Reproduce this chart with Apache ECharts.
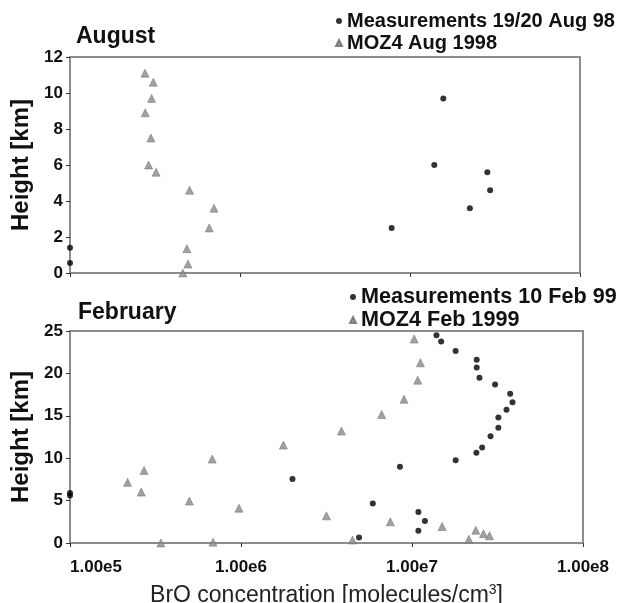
<!DOCTYPE html>
<html>
<head>
<meta charset="utf-8">
<script src="https://cdn.jsdelivr.net/npm/echarts@6/dist/echarts.min.js"></script>
<style>
html,body{margin:0;padding:0;background:#fff;}
#c{width:620px;height:603px;}
</style>
</head>
<body>
<div id="c"></div>
<script>
// ---- Data ----
const augMeasX = [1e5, 1e5, 1.57e7, 1.39e7, 2.85e7, 2.96e7, 2.25e7, 7.8e6];
const augMeasH = [1.4, 0.55, 9.7, 6.0, 5.6, 4.6, 3.6, 2.5];
const augModX = [2.76e5, 3.09e5, 3.02e5, 2.77e5, 2.99e5, 2.90e5, 3.21e5, 5.05e5, 7.03e5, 6.59e5, 4.87e5, 4.94e5, 4.61e5];
const augModH = [11.1, 10.6, 9.7, 8.9, 7.5, 6.0, 5.6, 4.6, 3.6, 2.5, 1.35, 0.5, 0.0];

const febMeasX = [1.39e7, 1.48e7, 1.80e7, 2.39e7, 2.39e7, 2.48e7, 3.06e7, 3.75e7, 3.87e7, 3.57e7, 3.20e7, 3.20e7, 2.88e7, 2.57e7, 2.38e7, 1.80e7, 8.5e6, 2.0e6, 5.9e6, 1.09e7, 1.19e7, 1.09e7, 4.9e6, 1e5, 1e5];
const febMeasH = [24.5, 23.75, 22.65, 21.6, 20.7, 19.5, 18.7, 17.6, 16.6, 15.7, 14.8, 13.6, 12.6, 11.25, 10.65, 9.75, 9.0, 7.55, 4.65, 3.65, 2.6, 1.45, 0.65, 5.9, 5.6];
const febModX = [1.03e7, 1.12e7, 1.08e7, 8.99e6, 6.65e6, 3.87e6, 1.77e6, 6.79e5, 2.71e5, 2.17e5, 2.61e5, 4.99e5, 9.73e5, 3.16e6, 7.47e6, 1.50e7, 2.36e7, 2.62e7, 2.84e7, 2.15e7, 4.49e6, 6.86e5, 3.40e5];
const febModH = [24.05, 21.25, 19.2, 16.95, 15.15, 13.2, 11.55, 9.9, 8.55, 7.15, 6.0, 4.95, 4.1, 3.2, 2.5, 1.95, 1.5, 1.1, 0.85, 0.45, 0.35, 0.1, 0.0];

const xMin = 1e5, xMax = 1e8;
const augYMax = 12, augYInterval = 2;
const febYMax = 25, febYInterval = 5;

const titleAug = 'August';
const titleFeb = 'February';
const nameAugMeas = 'Measurements 19/20 Aug 98';
const nameAugMod = 'MOZ4 Aug 1998';
const nameFebMeas = 'Measurements 10 Feb 99';
const nameFebMod = 'MOZ4 Feb 1999';
const yName = 'Height [km]';

// ---- Chart ----
const zip = (xs, ys) => xs.map((x, i) => [x, ys[i]]);
const FONT = '"Liberation Sans", Arial, sans-serif';
const GRAY = '#8c8c8c';
const TRI = '#8a8a8a';

function xAxisCfg(gridIndex, showLabels) {
  return {
    type: 'log', logBase: 10, gridIndex, min: xMin, max: xMax,
    axisLine: { show: true, lineStyle: { color: GRAY, width: 2 } },
    axisTick: { show: true, length: 4, lineStyle: { color: '#333', width: 1 } },
    minorTick: { show: false },
    splitLine: { show: false },
    axisLabel: {
      show: showLabels, margin: 16, color: '#111', fontFamily: FONT, fontWeight: 'bold', fontSize: 17,
      alignMinLabel: 'left',
      formatter: v => Number(v).toExponential(2).replace('e+', 'e')
    },
    name: showLabels ? 'BrO concentration [molecules/cm{sup|3}]' : '',
    nameLocation: 'middle', nameGap: 40,
    nameTextStyle: { color: '#222', fontFamily: FONT, fontSize: 23, rich: { sup: { fontSize: 14, fontFamily: FONT, color: '#222', padding: [0, 0, 12, 0] } } }
  };
}
function yAxisCfg(gridIndex, max, interval) {
  return {
    type: 'value', gridIndex, min: 0, max, interval,
    axisLine: { show: true, lineStyle: { color: GRAY, width: 2 } },
    axisTick: { show: true, length: 4, lineStyle: { color: '#333', width: 1 } },
    splitLine: { show: false },
    axisLabel: { margin: 7, color: '#111', fontFamily: FONT, fontWeight: 'bold', fontSize: 17 },
    name: yName, nameLocation: 'middle', nameRotate: 90, nameGap: 32,
    nameTextStyle: { color: '#111', fontFamily: FONT, fontWeight: 'bold', fontSize: 24 }
  };
}
const measStyle = { color: '#000' };
const modStyle = { color: TRI, borderColor: '#6a6a6a', borderWidth: 0.6 };
const legendTextTop = { color: '#111', fontFamily: FONT, fontWeight: 'bold', fontSize: 20, lineHeight: 20 };
const legendTextBot = { color: '#111', fontFamily: FONT, fontWeight: 'bold', fontSize: 21.6, lineHeight: 21 };
const titleText = { color: '#111', fontFamily: FONT, fontWeight: 'bold', fontSize: 23, lineHeight: 23 };

const option = {
  backgroundColor: '#fff',
  animation: false,
  title: [
    { text: titleAug, left: 76, top: 25, padding: 0, textStyle: titleText },
    { text: titleFeb, left: 78, top: 301, padding: 0, textStyle: titleText }
  ],
  legend: [
    { orient: 'vertical', left: 335, top: 11, padding: 0, itemGap: 2, itemWidth: 6, itemHeight: 6,
      textStyle: legendTextTop, selectedMode: false,
      data: [{ name: nameAugMeas, icon: 'circle' }, { name: nameAugMod, icon: 'triangle' }] },
    { orient: 'vertical', left: 349, top: 286, padding: 0, itemGap: 1, itemWidth: 6, itemHeight: 6,
      textStyle: legendTextBot, selectedMode: false,
      data: [{ name: nameFebMeas, icon: 'circle' }, { name: nameFebMod, icon: 'triangle' }] }
  ],
  grid: [
    { left: 70, top: 57, width: 510, height: 216, show: true, borderColor: GRAY, borderWidth: 2, backgroundColor: 'transparent', outerBoundsMode: 'none', containLabel: false },
    { left: 70, top: 331, width: 513, height: 212, show: true, borderColor: GRAY, borderWidth: 2, backgroundColor: 'transparent', outerBoundsMode: 'none', containLabel: false }
  ],
  xAxis: [xAxisCfg(0, false), xAxisCfg(1, true)],
  yAxis: [yAxisCfg(0, augYMax, augYInterval), yAxisCfg(1, febYMax, febYInterval)],
  series: [
    { name: nameAugMod, type: 'scatter', xAxisIndex: 0, yAxisIndex: 0, symbol: 'triangle', symbolSize: 8, itemStyle: modStyle, clip: false, data: zip(augModX, augModH) },
    { name: nameAugMeas, type: 'scatter', xAxisIndex: 0, yAxisIndex: 0, symbol: 'circle', symbolSize: 6, itemStyle: measStyle, clip: false, data: zip(augMeasX, augMeasH) },
    { name: nameFebMod, type: 'scatter', xAxisIndex: 1, yAxisIndex: 1, symbol: 'triangle', symbolSize: 8, itemStyle: modStyle, clip: false, data: zip(febModX, febModH) },
    { name: nameFebMeas, type: 'scatter', xAxisIndex: 1, yAxisIndex: 1, symbol: 'circle', symbolSize: 6, itemStyle: measStyle, clip: false, data: zip(febMeasX, febMeasH) }
  ]
};
const chart = echarts.init(document.getElementById('c'), null, { renderer: 'canvas' });
chart.setOption(option);
</script>
</body>
</html>
